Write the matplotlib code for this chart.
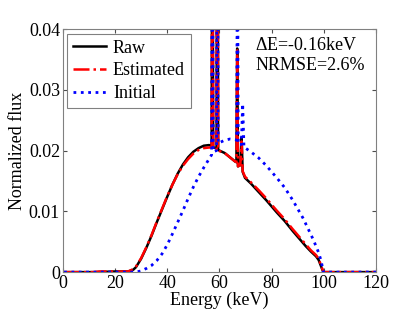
import matplotlib
matplotlib.use('Agg')
import matplotlib.pyplot as plt

plt.rcParams['font.family'] = ['Liberation Serif', 'DejaVu Serif']
plt.rcParams['mathtext.fontset'] = 'custom'
plt.rcParams['mathtext.it'] = 'Liberation Serif:italic'
plt.rcParams['mathtext.rm'] = 'Liberation Serif'

# energie (keV) et flux normalise
e_raw = [0.5, 12, 20, 25, 27, 28, 30, 32, 34, 36, 38, 40, 42, 44, 46, 48, 50, 52,
         54, 56, 57.0, 57.3, 57.6, 58.9, 59.2, 59.5, 62, 64, 66, 66.5, 66.8, 67.1,
         68.0, 68.5, 68.9, 69.8, 72, 75, 78, 80, 82, 85, 88, 90, 93, 95, 97, 98,
         99.6, 100, 120]
raw = [0, 0, 0.0001, 0.0001, 0.0004, 0.0008, 0.0022, 0.0040, 0.0060, 0.0082,
       0.0103, 0.0124, 0.0144, 0.0162, 0.0177, 0.0189, 0.0198, 0.0204,
       0.0208, 0.0209, 0.0208, 0.070, 0.0205, 0.0204, 0.100, 0.0201, 0.0196,
       0.0189, 0.0182, 0.0181, 0.0368, 0.0174, 0.0176, 0.0222, 0.0165, 0.0155,
       0.0146, 0.0132, 0.0118, 0.0108, 0.0098, 0.0084, 0.0068, 0.0058, 0.0043,
       0.0034, 0.0026, 0.0020, 0.0002, 0, 0]

e_est = [0.5, 12, 14, 20, 25, 27, 28, 30, 32, 34, 36, 38, 40, 42, 44, 46, 48, 50,
         52, 54, 56, 57.0, 57.3, 57.6, 58.9, 59.2, 59.5, 62, 64, 66, 66.5, 66.8,
         67.1, 68.0, 68.5, 68.9, 69.8, 72, 75, 78, 80, 82, 85, 88, 90, 93, 95,
         97, 98, 99.6, 100, 120]
est = [0, 0, 0.0001, 0.0001, 0.0001, 0.0005, 0.0009, 0.0023, 0.0041, 0.0061,
       0.0083, 0.0104, 0.0125, 0.0144, 0.0161, 0.0175, 0.0186, 0.0195, 0.0201,
       0.0204, 0.0205, 0.0205, 0.070, 0.0203, 0.0202, 0.100, 0.0200, 0.0196,
       0.0189, 0.0182, 0.0181, 0.0365, 0.0174, 0.0176, 0.0215, 0.0166, 0.0157,
       0.0148, 0.0135, 0.0121, 0.0111, 0.0101, 0.0087, 0.0071, 0.0061, 0.0046,
       0.0036, 0.0028, 0.0022, 0.0003, 0, 0]

e_init = [0.5, 28, 30, 32, 34, 36, 38, 40, 42, 44, 46, 48, 50, 52, 54, 56, 57,
          57.3, 57.6, 58.9, 59.2, 59.5, 62, 64, 66, 66.6, 66.9, 67.2, 68.4, 68.9,
          69.4, 70, 72, 75, 78, 80, 82, 85, 88, 90, 92, 94, 96, 98, 99, 99.8, 120]
init = [0, 0, 0.0002, 0.0006, 0.0011, 0.0019, 0.0030, 0.0045, 0.0063, 0.0082,
        0.0101, 0.0121, 0.0140, 0.0157, 0.0172, 0.0186, 0.0193, 0.070, 0.0198,
        0.0200, 0.100, 0.0212, 0.0217, 0.0219, 0.0218, 0.0217, 0.060, 0.0210,
        0.0210, 0.0277, 0.0205, 0.0204, 0.0198, 0.0188, 0.0175, 0.0165, 0.0155,
        0.0139, 0.0119, 0.0104, 0.0089, 0.0071, 0.0053, 0.0032, 0.0018, 0, 0]

fig = plt.figure(figsize=(4.16, 3.19), dpi=100)
ax = fig.add_axes([0.151, 0.147, 0.753, 0.762])

ax.plot(e_raw, raw, color='k', lw=1.8, label='Raw')
ax.plot(e_est, est, color='red', lw=1.8, ls='-.', label='Estimated')
ax.plot(e_init, init, color='blue', lw=2.0, ls=':', label='Initial')

ax.set_xlim(0, 120)
ax.set_ylim(0, 0.04)
ax.set_xticks([0, 20, 40, 60, 80, 100, 120])
ax.set_yticks([0, 0.01, 0.02, 0.03, 0.04])
ax.set_yticklabels(['0', '0.01', '0.02', '0.03', '0.04'])
ax.tick_params(direction='in', top=True, right=True, labelsize=13,
               length=3, color='0.3', pad=2)
for s in ax.spines.values():
    s.set_color('0.5')
    s.set_linewidth(0.8)

ax.set_xlabel('Energy (keV)', fontsize=13, labelpad=0)
ax.set_ylabel('Normalized flux', fontsize=13, labelpad=2)

leg = ax.legend(loc='upper left', fontsize=13, handlelength=1.8,
                handletextpad=0.4, labelspacing=0.32, borderpad=0.33,
                borderaxespad=0.25, fancybox=False, framealpha=1)
leg.get_frame().set_edgecolor('0.5')
leg.get_frame().set_linewidth(0.8)

ax.text(0.614, 0.915, r'$\mathit{\Delta}$E=-0.16keV', transform=ax.transAxes,
        fontsize=13, va='baseline')
ax.text(0.614, 0.83, 'NRMSE=2.6%', transform=ax.transAxes,
        fontsize=13, va='baseline')

fig.savefig('out.png', dpi=100)
